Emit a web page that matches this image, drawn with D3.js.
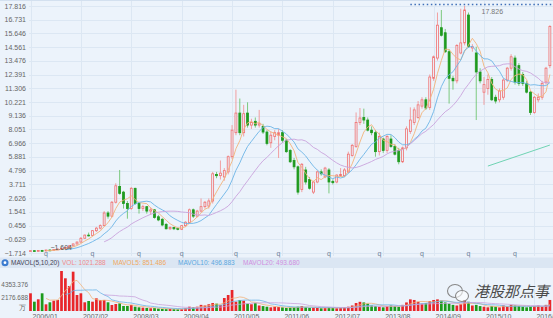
<!DOCTYPE html>
<html>
<head>
<meta charset="utf-8">
<script src="https://cdn.jsdelivr.net/npm/d3@7"></script>
<style>
html, body { margin: 0; padding: 0; background: #ecf3fb; }
svg { display: block; font-family: Arial, "Liberation Sans", sans-serif; }
</style>
</head>
<body>
<svg id="chart" width="553" height="318"></svg>
<script>
const width = 553, height = 318;

// monthly candles, 2006/01 .. 2017/03
const months = d3.timeMonth.range(new Date(2006, 0, 1), new Date(2017, 3, 1)).map(d3.timeFormat("%Y/%m"));

const open = [
  -1.56,-1.53,-1.55,-1.52,-1.55,-1.48,-1.50,-1.44,-1.40,-1.34,
  -1.28,-1.15,-1.00,-0.85,-0.55,-0.30,-0.32,0.05,0.25,0.45,
  1.45,1.20,2.30,3.55,3.10,2.20,1.80,3.40,2.20,1.80,
  1.95,1.60,1.70,1.15,0.95,0.55,0.20,0.30,0.22,0.16,
  0.45,0.70,1.70,1.20,1.60,1.95,2.00,2.40,4.50,4.40,
  4.30,4.70,5.90,7.80,9.35,7.80,9.35,8.40,8.70,8.40,
  8.30,7.85,7.00,7.50,7.60,7.80,7.20,6.40,5.60,5.10,
  3.30,4.85,4.10,3.10,3.90,4.70,4.30,4.85,3.95,3.90,
  4.40,4.40,4.70,6.00,6.70,8.60,9.00,8.80,8.00,7.80,
  6.30,7.30,6.40,7.30,6.70,6.40,5.50,6.60,7.90,8.60,
  9.00,9.90,10.40,9.80,12.10,13.70,16.10,15.70,14.20,12.10,
  11.90,14.10,14.90,17.10,14.50,14.10,12.60,11.00,11.30,12.00,
  10.60,10.40,10.60,11.96,12.90,13.70,13.10,12.40,11.70,11.00,
  9.40,10.40,10.60,11.80,13.10
];
const high = [
  -1.50,-1.49,-1.48,-1.47,-1.45,-1.42,-1.40,-1.36,-1.30,-1.22,
  -1.08,-0.95,-0.80,-0.45,-0.25,-0.10,0.10,0.35,0.55,1.60,
  1.60,2.40,3.80,4.85,3.20,2.40,3.50,3.45,2.30,2.10,
  2.00,1.90,1.75,1.30,1.05,0.65,0.40,0.35,0.30,0.50,
  0.80,1.80,1.80,1.70,2.60,2.40,2.60,4.70,4.70,5.60,
  5.00,6.00,8.40,11.20,10.50,10.00,10.20,8.90,9.00,9.60,
  8.50,8.00,7.90,8.00,8.10,8.00,7.30,6.50,5.80,5.20,
  5.40,5.10,4.30,4.00,4.80,4.90,5.10,5.00,4.10,4.50,
  5.00,5.00,6.30,6.90,9.40,9.75,9.70,9.00,8.30,8.00,
  7.80,7.40,7.60,7.60,6.90,6.60,6.70,8.30,9.80,9.80,
  10.30,10.60,10.60,12.40,13.90,17.30,17.50,16.00,14.40,12.30,
  14.80,17.60,17.826,17.30,14.80,14.60,12.90,12.20,12.40,12.20,
  10.80,11.30,12.10,13.00,14.00,13.90,13.30,12.60,11.90,11.10,
  10.70,10.90,11.90,13.00,16.30
];
const low = [
  -1.59,-1.604,-1.58,-1.58,-1.58,-1.55,-1.54,-1.48,-1.46,-1.40,
  -1.32,-1.20,-1.05,-0.90,-0.60,-0.40,-0.40,-0.05,0.15,0.40,
  1.00,1.10,2.20,2.90,1.80,1.00,1.70,2.10,1.40,1.60,
  1.40,1.30,1.00,0.80,0.40,0.15,0.10,0.10,0.08,0.10,
  0.35,0.60,1.05,1.10,1.50,1.80,1.80,2.20,4.20,4.10,
  4.00,4.50,5.70,7.60,7.60,7.50,8.20,8.10,8.20,8.20,
  7.70,6.80,6.60,7.20,5.80,7.00,6.20,5.40,4.90,2.90,
  3.10,3.70,3.30,2.95,3.80,4.40,4.20,3.00,3.70,3.80,
  4.30,4.30,4.60,5.90,6.60,8.40,8.50,7.90,7.60,5.90,
  6.00,6.20,6.20,6.60,6.00,5.30,5.40,6.40,7.70,8.40,
  8.90,9.70,9.60,9.60,11.90,13.50,15.40,14.10,10.10,11.20,
  11.70,14.00,14.70,14.50,14.20,8.80,11.70,10.00,10.80,10.30,
  10.10,10.20,10.40,11.80,12.70,11.60,11.50,11.50,10.90,9.20,
  9.30,10.20,10.40,11.60,12.90
];
const close = [
  -1.53,-1.55,-1.52,-1.55,-1.48,-1.50,-1.44,-1.40,-1.34,-1.28,
  -1.15,-1.00,-0.85,-0.55,-0.30,-0.32,0.05,0.25,0.45,1.45,
  1.20,2.30,3.60,3.00,2.20,1.80,3.40,2.20,1.80,1.95,
  1.60,1.70,1.10,0.90,0.50,0.20,0.30,0.20,0.16,0.45,
  0.72,1.70,1.20,1.60,1.95,2.30,2.40,4.55,4.40,4.60,
  4.80,5.90,8.00,9.35,7.80,9.30,8.40,8.60,8.40,8.50,
  7.85,6.95,7.60,7.80,7.80,7.20,6.30,5.50,5.10,3.10,
  5.30,3.90,3.40,3.90,4.70,4.55,5.00,3.90,3.85,4.45,
  4.50,4.85,6.10,6.80,8.60,8.96,8.80,8.00,7.80,6.30,
  7.50,6.40,7.50,6.70,6.10,5.50,6.60,8.10,8.80,9.60,
  10.00,10.40,9.75,12.20,13.80,16.30,15.50,14.20,12.10,11.90,
  14.70,14.90,17.50,14.60,14.60,12.60,11.90,11.60,12.00,10.40,
  10.30,11.10,11.96,12.90,13.80,11.80,11.70,11.70,11.00,9.40,
  10.60,10.60,11.70,12.90,16.20
];
// volume, unit 万
const volume = [
  2890,1520,1910,2890,1090,1420,1680,1800,6530,5340,
  4080,6420,2610,2890,1420,1630,1520,2070,1800,1800,
  1420,980,1140,1250,820,820,980,700,600,550,
  500,450,500,400,350,300,350,300,280,300,
  450,700,650,700,1000,900,1100,1300,1200,1000,
  2120,2610,3430,1520,1800,1680,1200,1100,1300,900,
  800,700,600,700,650,600,500,550,600,700,
  800,600,500,550,500,450,500,600,500,450,
  500,600,700,900,1300,1500,1400,1200,900,800,
  700,600,800,900,800,700,1000,1400,1900,1800,
  1500,1200,1300,1600,1800,1900,1700,1400,1200,1000,
  900,1100,1800,1500,900,1000,800,700,600,800,
  700,600,900,700,1000,900,800,700,600,700,
  800,900,700,1000,1800
];

const priceTicks = [17.816,16.731,15.646,14.561,13.476,12.391,11.306,10.221,9.136,8.051,6.966,5.881,4.796,3.711,2.626,1.541,0.456,-0.629,-1.714];
const volTicks = [4353.376, 2176.688];
const dateTicks = ["2006/01","2007/02","2008/03","2009/04","2010/05","2011/06","2012/07","2013/08","2014/09","2015/10","2016/11"];
const markerMonths = ["2006/05","2007/05","2008/05","2009/04","2010/06","2011/05","2012/06","2013/07","2014/06","2015/06","2016/06"];
const trendLine = [{m: "2015/11", p: 5.16}, {m: "2017/03", p: 6.82}];
const volHeader = [
  {t: "VOL: 1021.288", c: "#f08a8a"},
  {t: "MAVOL5: 851.486", c: "#f0a860"},
  {t: "MAVOL10: 496.883", c: "#5aa7e0"},
  {t: "MAVOL20: 493.680", c: "#d08ee0"}
];

const UP = "#ee3b3b", DOWN = "#1f9a1f", BG = "#ecf3fb", GRID = "#dce7f3";

const svg = d3.select("#chart");
const step = 3.876;
const x = d3.scaleBand().domain(months)
  .range([30.5 - step / 2, 30.5 - step / 2 + step * months.length])
  .paddingInner(0.3).paddingOuter(0.15);
const cx = m => x(m) + x.bandwidth() / 2;
const y = d3.scaleLinear().domain([-1.714, 17.816]).range([253, 6]);
const yv = d3.scaleLinear().domain([0, 6530.064]).range([311, 271]);

const data = months.map((m, i) => ({m, o: open[i], h: high[i], l: low[i], c: close[i], v: volume[i]}));

// background
svg.append("rect").attr("width", width).attr("height", height).attr("fill", BG);

// grid
svg.append("g").selectAll("line").data(priceTicks).join("line")
  .attr("x1", 29).attr("x2", width).attr("y1", d => Math.round(y(d)) + 0.5).attr("y2", d => Math.round(y(d)) + 0.5)
  .attr("stroke", GRID).attr("stroke-width", 1);
svg.append("g").selectAll("line").data(dateTicks).join("line")
  .attr("x1", d => Math.round(cx(d)) + 0.5).attr("x2", d => Math.round(cx(d)) + 0.5)
  .attr("y1", 0).attr("y2", 256)
  .attr("stroke", GRID);
svg.append("g").selectAll("line").data(dateTicks).join("line")
  .attr("x1", d => Math.round(cx(d)) + 0.5).attr("x2", d => Math.round(cx(d)) + 0.5)
  .attr("y1", 268).attr("y2", 311)
  .attr("stroke", GRID);
svg.append("line").attr("x1", 0).attr("x2", width).attr("y1", 0.5).attr("y2", 0.5).attr("stroke", "#d3e0ef");

// price labels
svg.append("g").selectAll("text").data(priceTicks).join("text")
  .attr("x", 26).attr("y", d => y(d) + 2.5)
  .attr("text-anchor", "end").attr("font-size", 7).attr("fill", "#666")
  .text(d => d3.format(".3f")(d).replace("-", "-"));

// candles
const candle = svg.append("g").selectAll("g").data(data).join("g");
candle.append("line")
  .attr("x1", d => cx(d.m)).attr("x2", d => cx(d.m))
  .attr("y1", d => y(d.h)).attr("y2", d => y(d.l))
  .attr("stroke", d => d.c >= d.o ? "#f28a8a" : "#5fbf5f").attr("stroke-width", 0.8);
candle.append("rect")
  .attr("x", d => x(d.m) + 0.4)
  .attr("width", x.bandwidth() - 0.8)
  .attr("y", d => y(Math.max(d.o, d.c)))
  .attr("height", d => Math.max(0.8, Math.abs(y(d.o) - y(d.c))))
  .attr("fill", d => d.c >= d.o ? BG : DOWN)
  .attr("stroke", d => d.c >= d.o ? "#f07070" : DOWN)
  .attr("stroke-width", 0.8);

// moving averages
function ma(arr, n) {
  return arr.map((v, i) => i < n - 1 ? null : d3.mean(arr.slice(i - n + 1, i + 1)));
}
const maDefs = [{n: 5, c: "#f3b37a"}, {n: 10, c: "#6cb4e6"}, {n: 20, c: "#c9a3dc"}];
maDefs.forEach(def => {
  const vals = ma(close, def.n);
  const line = d3.line().defined(d => d[1] != null).x(d => cx(d[0])).y(d => y(d[1]));
  svg.append("path").datum(months.map((m, i) => [m, vals[i]]))
    .attr("d", line).attr("fill", "none").attr("stroke", def.c).attr("stroke-width", 0.9);
});

// max / min markers
const iMax = d3.maxIndex(high), iMin = d3.minIndex(low);
svg.append("text").attr("x", cx(months[iMax]) + 17).attr("y", y(high[iMax]) + 8)
  .attr("font-size", 7).attr("fill", "#777").text(d3.format(".3f")(high[iMax]));
svg.append("text").attr("x", cx(months[iMin]) + 16).attr("y", y(low[iMin]) - 2)
  .attr("font-size", 7).attr("fill", "#555").text(d3.format(".3f")(low[iMin]));

// dotted line at the top
svg.append("line").attr("x1", cx("2014/03")).attr("x2", width).attr("y1", 4.5).attr("y2", 4.5)
  .attr("stroke", "#3f6fb8").attr("stroke-width", 1.5).attr("stroke-dasharray", "1.5,2.6");

// trend line
svg.append("line")
  .attr("x1", cx(trendLine[0].m)).attr("y1", y(trendLine[0].p))
  .attr("x2", cx(trendLine[1].m)).attr("y2", y(trendLine[1].p))
  .attr("stroke", "#6fd3b3").attr("stroke-width", 1);

// q markers
svg.append("g").selectAll("text").data(markerMonths).join("text")
  .attr("x", d => cx(d)).attr("y", 255.5).attr("text-anchor", "middle")
  .attr("font-size", 7).attr("fill", "#6d7f99").text("q");

// volume header
svg.append("rect").attr("x", 0).attr("y", 257.5).attr("width", width).attr("height", 10.5).attr("fill", "#dbe6f3");
svg.append("circle").attr("cx", 5).attr("cy", 262.7).attr("r", 3.5).attr("fill", "#3b7bd0");
svg.append("circle").attr("cx", 5).attr("cy", 262.7).attr("r", 1.4).attr("fill", "#fff");
svg.append("text").attr("x", 11).attr("y", 265).attr("font-size", 6.5).attr("fill", "#445").text("MAVOL(5,10,20)");
const hx = [62, 113, 178, 243];
svg.append("g").selectAll("text").data(volHeader).join("text")
  .attr("x", (d, i) => hx[i]).attr("y", 265).attr("font-size", 6.5).attr("fill", d => d.c).text(d => d.t);

// volume bars
svg.append("g").selectAll("rect").data(data).join("rect")
  .attr("x", d => x(d.m)).attr("width", x.bandwidth())
  .attr("y", d => yv(d.v)).attr("height", d => yv(0) - yv(d.v))
  .attr("fill", d => d.c >= d.o ? "#e8262a" : "#1c9b1c");

const vmaDefs = [{n: 5, c: "#f3b37a"}, {n: 10, c: "#6cb4e6"}, {n: 20, c: "#c9a3dc"}];
vmaDefs.forEach(def => {
  const vals = ma(volume, def.n);
  const line = d3.line().defined(d => d[1] != null).x(d => cx(d[0])).y(d => yv(d[1]));
  svg.append("path").datum(months.map((m, i) => [m, vals[i]]))
    .attr("d", line).attr("fill", "none").attr("stroke", def.c).attr("stroke-width", 0.8);
});

// volume labels
svg.append("g").selectAll("text").data(volTicks).join("text")
  .attr("x", 28).attr("y", d => yv(d) + 2.3).attr("text-anchor", "end")
  .attr("font-size", 6.4).attr("fill", "#666").text(d => d3.format(".3f")(d));
svg.append("text").attr("x", 26).attr("y", 309.5).attr("text-anchor", "end")
  .attr("font-size", 7).attr("fill", "#666").text("万");

// date labels
svg.append("g").selectAll("text").data(dateTicks).join("text")
  .attr("x", d => cx(d) + 2).attr("y", 318.5)
  .attr("font-size", 7).attr("fill", "#666").text(d => d);

// watermark
const wm = svg.append("g").attr("transform", "translate(447,284)");
wm.append("ellipse").attr("cx", 8).attr("cy", 7).attr("rx", 7.5).attr("ry", 6.5)
  .attr("fill", "none").attr("stroke", "#888").attr("stroke-width", 1.1);
wm.append("ellipse").attr("cx", 15).attr("cy", 12).attr("rx", 6.5).attr("ry", 5.5)
  .attr("fill", "#fff").attr("fill-opacity", 0.6).attr("stroke", "#888").attr("stroke-width", 1.1);
wm.append("text").attr("x", 27).attr("y", 13).attr("font-size", 15)
  .attr("font-family", "'Noto Sans CJK SC', sans-serif").attr("font-style", "italic")
  .attr("fill", "#4a4a4a").text("港股那点事");
</script>
</body>
</html>
